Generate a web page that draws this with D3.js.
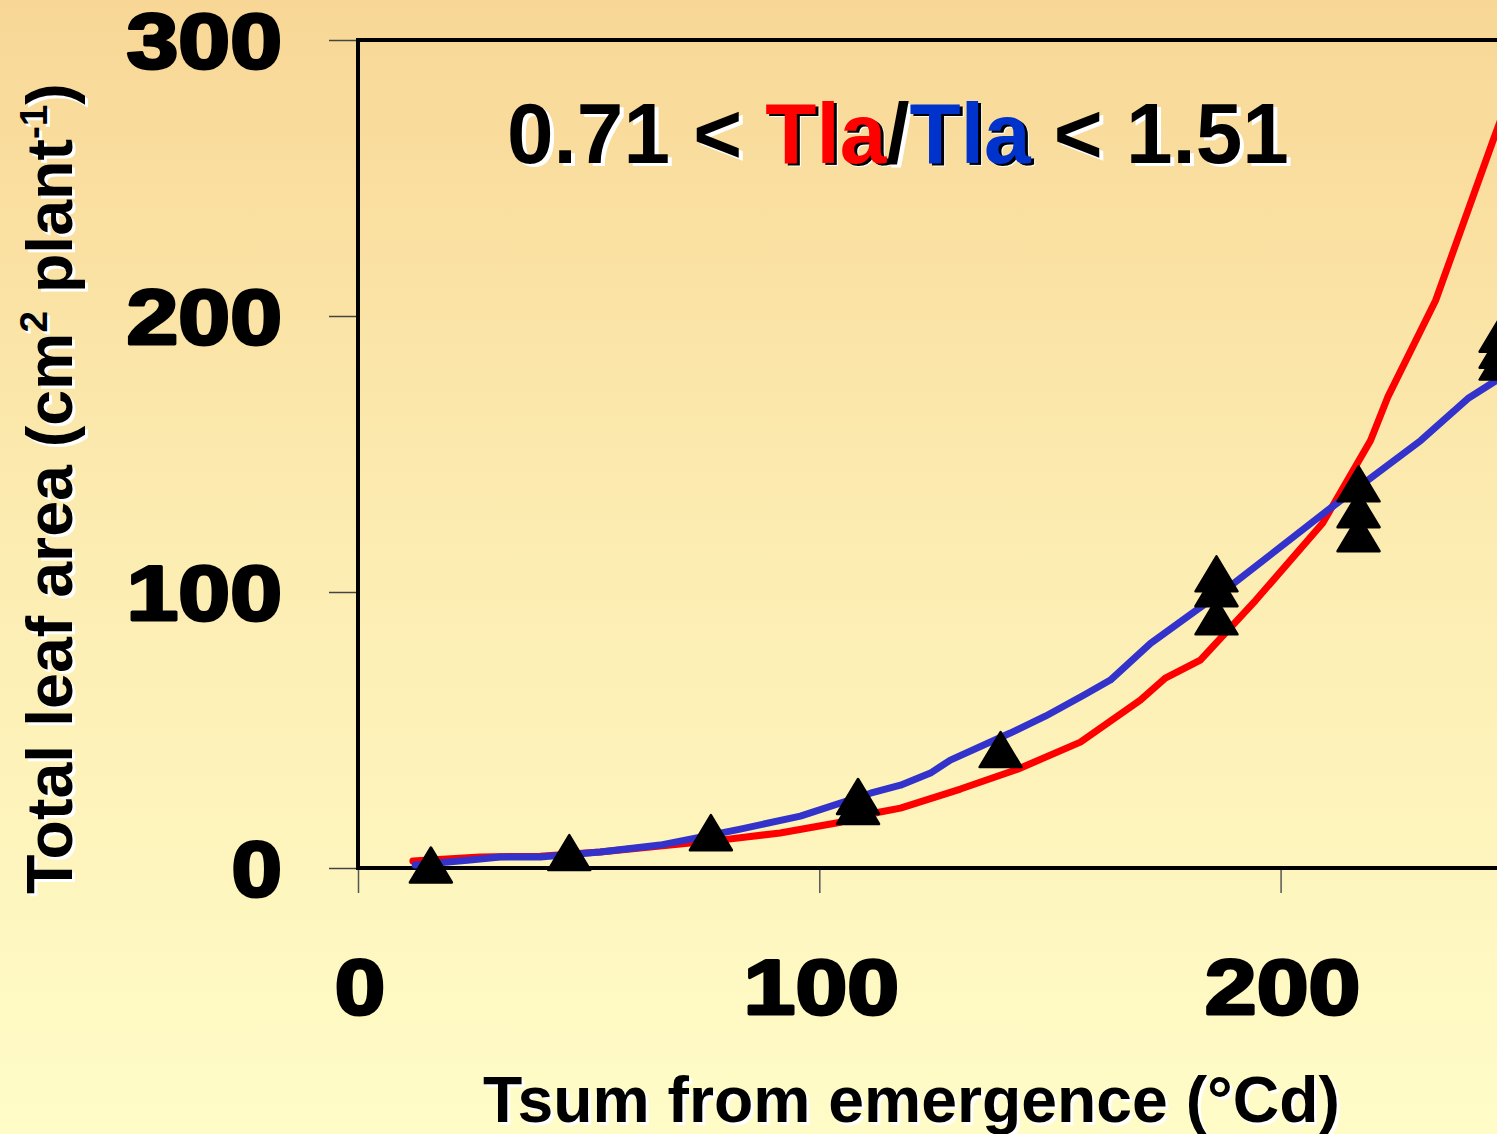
<!DOCTYPE html>
<html>
<head>
<meta charset="utf-8">
<script src="https://cdn.jsdelivr.net/npm/d3@7"></script>
<style>
  html, body { margin: 0; padding: 0; overflow: hidden; }
  svg { display: block; }
  text { font-family: "Liberation Sans", Arial, sans-serif; font-weight: bold; }
</style>
</head>
<body>
<svg id="chart" width="1497" height="1134"></svg>
<script>
// tick values
const xTicks = [0, 100, 200, 300];
const yTicks = [0, 100, 200, 300];

// simulated leaf area, red model
const redTsum = [11.9, 26.5, 39.5, 52.5, 65.5, 78.5, 91.5, 104.6, 113.2, 117.6, 130.6, 143, 156.6, 169.6, 175, 182.6, 194.6, 209.1, 219.5, 223.2, 233.6, 246.2, 249];
const redArea = [2.5, 4.0, 4.3, 5.8, 8.0, 10.1, 12.7, 16.6, 20.3, 21.7, 28.6, 35.8, 45.6, 60.8, 68.8, 75.3, 97.0, 124.9, 154.9, 170.5, 205.6, 264.2, 277];

// simulated leaf area, blue model
const blueTsum = [12.4, 24.3, 30.8, 39.5, 52.5, 65.5, 82.9, 95.9, 111.1, 117.6, 124.1, 128.4, 141.4, 149, 157.3, 163.1, 171.8, 189.8, 210.2, 230.4, 240.6, 248.5];
const blueArea = [1.1, 2.9, 4.0, 4.0, 5.8, 8.3, 14.1, 18.8, 27.1, 30.0, 34.4, 39.1, 48.9, 55.0, 62.6, 68.1, 81.4, 103.1, 129.6, 154.9, 170.1, 178.5];

// observed plants
const obsTsum = [15.8, 45.8, 76.5, 108.4, 108.4, 139.3, 186.1, 186.1, 186.1, 216.9, 216.9, 216.9, 247.7, 247.7, 247.7];
const obsArea = [1.1, 5.6, 12.8, 25.9, 22.3, 42.9, 106.6, 101.2, 91.0, 139.2, 129.8, 121.1, 193.4, 187.6, 183.3];

const svg = d3.select('#chart');
const W = 1497, H = 1134;

// background gradient
const defs = svg.append('defs');
const grad = defs.append('linearGradient').attr('id', 'bg')
	.attr('x1', 0).attr('y1', 0).attr('x2', 0).attr('y2', 1);
grad.append('stop').attr('offset', '0%').attr('stop-color', '#f8d796');
grad.append('stop').attr('offset', '50%').attr('stop-color', '#fcedb2');
grad.append('stop').attr('offset', '100%').attr('stop-color', '#fffcc8');
svg.append('rect').attr('width', W).attr('height', H).attr('fill', 'url(#bg)');

const x = d3.scaleLinear().domain([0, 300]).range([358, 358 + 3 * 461.3]);
const y = d3.scaleLinear().domain([0, 300]).range([868, 40]);

// squeeze or stretch a text element to a target width
function fitWidth(sel, target) {
	const w = sel.node().getBBox().width;
	sel.attr('transform', `scale(${target / w},1)`);
}

// y axis ticks (thin, outward)
const yAxis = svg.append('g').attr('transform', 'translate(358,0)')
	.call(d3.axisLeft(y).tickValues(yTicks).tickSize(29).tickFormat(''));
yAxis.select('.domain').remove();
yAxis.selectAll('.tick line').attr('stroke', '#444').attr('stroke-width', 1.5);

// x axis ticks (thin, downward)
const xAxis = svg.append('g').attr('transform', 'translate(0,868)')
	.call(d3.axisBottom(x).tickValues(xTicks).tickSize(25).tickFormat(''));
xAxis.select('.domain').remove();
xAxis.selectAll('.tick line').attr('stroke', '#555').attr('stroke-width', 1.5);

// frame: left, top, bottom
svg.append('path')
	.attr('d', `M${x(0)},${y(0)}V${y(300)}H${W + 5}`)
	.attr('fill', 'none').attr('stroke', '#000').attr('stroke-width', 4);
svg.append('line')
	.attr('x1', x(0) - 2).attr('x2', W + 5).attr('y1', y(0)).attr('y2', y(0))
	.attr('stroke', '#000').attr('stroke-width', 4);

// tick labels (heavy: bold plus a thin outline)
function tickLabel(px, py, anchor, v) {
	const g = svg.append('g').attr('transform', `translate(${px},${py})`);
	const t = g.append('text').attr('text-anchor', anchor).attr('font-size', 77)
		.attr('fill', '#000').attr('stroke', '#000').attr('stroke-width', 3)
		.attr('stroke-linejoin', 'round').text(v);
	fitWidth(t, String(v).length * 52.5 - 2);
}
yTicks.forEach(v => tickLabel(282, y(v) + 28, 'end', v));
xTicks.filter(v => x(v) < W).forEach(v => tickLabel(x(v) + 2, 1014, 'middle', v));

// curves
const line = d3.line().x(d => x(d[0])).y(d => y(d[1]));
svg.append('path')
	.datum(redTsum.map((t, i) => [t, redArea[i]]))
	.attr('d', line).attr('fill', 'none')
	.attr('stroke', '#ff0000').attr('stroke-width', 7)
	.attr('stroke-linecap', 'round').attr('stroke-linejoin', 'round');
svg.append('path')
	.datum(blueTsum.map((t, i) => [t, blueArea[i]]))
	.attr('d', line).attr('fill', 'none')
	.attr('stroke', '#3333cc').attr('stroke-width', 7)
	.attr('stroke-linecap', 'round').attr('stroke-linejoin', 'round');

// observed triangles
const tw = 42, th = 35;
svg.append('g').selectAll('path')
	.data(obsTsum.map((t, i) => [t, obsArea[i]]))
	.join('path')
	.attr('transform', d => `translate(${x(d[0])},${y(d[1])})`)
	.attr('d', `M0,${-th / 2}L${tw / 2},${th / 2}L${-tw / 2},${th / 2}Z`)
	.attr('fill', '#000').attr('stroke', '#000').attr('stroke-width', 2.5)
	.attr('stroke-linejoin', 'round');

// shadowed text helper: layers drawn in screen offsets
function shadowText(px, py, rot, size, parts, target, anchor, layers) {
	layers.forEach(layer => {
		const g = svg.append('g')
			.attr('transform', `translate(${px + layer.dx},${py + layer.dy}) rotate(${rot})`);
		const t = g.append('text').attr('font-size', size).attr('text-anchor', anchor);
		parts.forEach(p => {
			const s = t.append('tspan').text(p.text);
			if (p.sup) s.attr('font-size', size * 0.6).attr('dy', -size * 0.38);
			if (p.down) s.attr('dy', size * 0.38);
			s.attr('fill', layer.fill ? layer.fill(p) : (p.color || '#000'));
		});
		fitWidth(t, target);
	});
}

// y axis title
const yTitle = [
	{ text: 'Total leaf area (cm' },
	{ text: '2', sup: true },
	{ text: ' plant', down: true },
	{ text: '-1', sup: true },
	{ text: ')', down: true }
];
shadowText(72, 894, -90, 65, yTitle, 811, 'start', [
	{ dx: 3, dy: 3, fill: () => '#fff' },
	{ dx: 0, dy: 0 }
]);

// x axis title
shadowText(483, 1122, 0, 64, [{ text: 'Tsum from emergence (°Cd)' }], 857, 'start', [
	{ dx: 3, dy: 3, fill: () => '#fff' },
	{ dx: 0, dy: 0 }
]);

// ratio annotation
const note = [
	{ text: '0.71 < ' },
	{ text: 'Tla', color: '#ff0000' },
	{ text: '/' },
	{ text: 'Tla', color: '#0033cc' },
	{ text: ' < 1.51' }
];
shadowText(507, 163, 0, 85, note, 782, 'start', [
	{ dx: 4, dy: 3, fill: () => '#fff' },
	{ dx: 3, dy: 2, fill: p => p.color ? '#000' : 'transparent' },
	{ dx: 0, dy: 0 }
]);
</script>
</body>
</html>
